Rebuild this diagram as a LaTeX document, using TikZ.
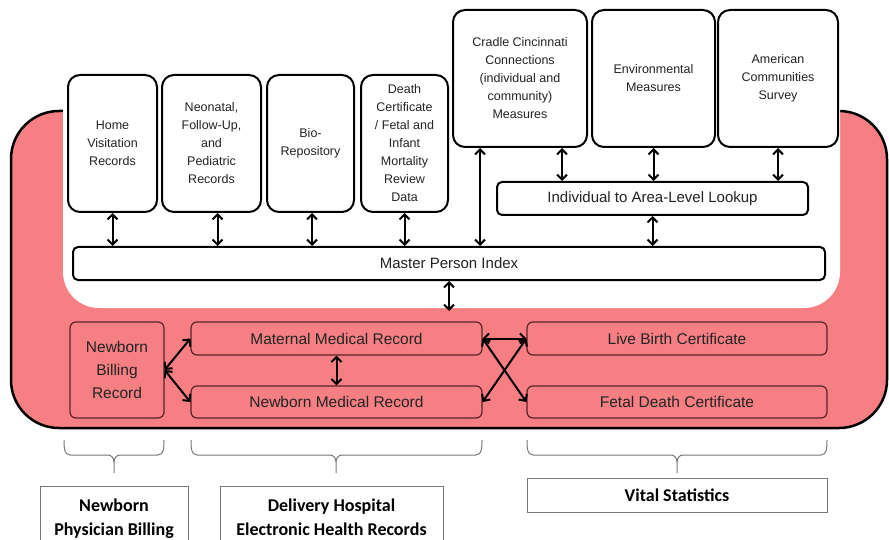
\documentclass[tikz,border=0pt]{standalone}
\usepackage{fontspec}
\setmainfont{Liberation Sans}
\newfontfamily\calib{Carlito}
\usetikzlibrary{arrows.meta}
\definecolor{pinkfill}{RGB}{245,127,131}
\definecolor{darkrim}{RGB}{90,35,38}
\definecolor{txt}{RGB}{35,35,35}
\definecolor{graybrace}{RGB}{120,120,120}
\newcommand\mybrace[3]{%
  \draw[brace] (#1,440) to[out=-90,in=180] (#1+6,455) -- (#3-6,455) to[out=0,in=90] (#3,462) -- (#3,473);
  \draw[brace] (#2,440) to[out=-90,in=0] (#2-6,455) -- (#3+6,455) to[out=180,in=90] (#3,462);}
\begin{document}
\begin{tikzpicture}[x=1pt,y=-1pt,
 topbox/.style={draw=black,line width=2,rounded corners=12,fill=white,align=center,font=\fontsize{12.5}{18}\selectfont,text=txt,inner sep=2},
 barbox/.style={draw=black,line width=2,rounded corners=5,fill=white,font=\fontsize{15}{18}\selectfont,text=txt,inner sep=0},
 pinkbox/.style={draw=darkrim,line width=1.2,rounded corners=6,fill=pinkfill,font=\fontsize{15.5}{23}\selectfont,text=txt,align=center,inner sep=0},
 labbox/.style={draw=graybrace,line width=1,fill=white,font=\calib\bfseries\fontsize{18}{24}\selectfont,text=black,align=center},
 dbl/.style={line width=2,{Straight Barb[length=5pt,width=10pt]}-{Straight Barb[length=5pt,width=10pt]}},
 brace/.style={draw=graybrace,line width=1}]
\useasboundingbox (0,0) rectangle (889,540);
% background shapes
\draw[fill=pinkfill, line width=2.5, rounded corners=48] (11,111) rectangle (887,428);
\fill[white, rounded corners=36] (63,50) rectangle (840,308);
% top boxes
\node[topbox, minimum width=89, minimum height=137] (home) at (112.5,143.5) {Home\\Visitation\\Records};
\node[topbox, minimum width=99, minimum height=137] (neo) at (211.5,143.5) {Neonatal,\\Follow-Up,\\and\\Pediatric\\Records};
\node[topbox, minimum width=87, minimum height=137] (bio) at (310.5,143.5) {Bio-\\Repository};
\node[topbox, minimum width=87, minimum height=137] (death) at (404.5,143.5) {Death\\Certificate\\/ Fetal and\\Infant\\Mortality\\Review\\Data};
\node[topbox, minimum width=134, minimum height=137] (cradle) at (520,78.5) {Cradle Cincinnati\\Connections\\(individual and\\community)\\Measures};
\node[topbox, minimum width=123, minimum height=137] (env) at (653.5,78.5) {Environmental\\Measures};
\node[topbox, minimum width=120, minimum height=137] (acs) at (778,78.5) {American\\Communities\\Survey};
\node[barbox, minimum width=311, minimum height=33] (lookup) at (652.5,198.5) {Individual to Area-Level Lookup};
\node[barbox, minimum width=752, minimum height=33] (mpi) at (449,263.5) {Master Person Index};
% bottom pink boxes
\node[pinkbox, minimum width=94, minimum height=96] (billing) at (117,370) {Newborn\\Billing\\Record};
\node[pinkbox, minimum width=291, minimum height=33] (maternal) at (336.5,338.5) {Maternal Medical Record};
\node[pinkbox, minimum width=291, minimum height=32] (newborn) at (336.5,402) {Newborn Medical Record};
\node[pinkbox, minimum width=300, minimum height=33] (live) at (677,338.5) {Live Birth Certificate};
\node[pinkbox, minimum width=300, minimum height=32] (fetal) at (677,402) {Fetal Death Certificate};
\coordinate (mpidown) at (449,311);
% arrows top
\draw[dbl] (home.south) -- (home.south |- mpi.north);
\draw[dbl] ([xshift=6]neo.south) -- ([xshift=6]neo.south |- mpi.north);
\draw[dbl] ([xshift=1.5]bio.south) -- ([xshift=1.5]bio.south |- mpi.north);
\draw[dbl] (death.south) -- (death.south |- mpi.north);
\draw[dbl] ([xshift=28]cradle.south west) -- ([xshift=28]cradle.south west |- mpi.north);
\draw[dbl] ([xshift=42]cradle.south) -- ([xshift=42]cradle.south |- lookup.north);
\draw[dbl] (env.south) -- (env.south |- lookup.north);
\draw[dbl] (acs.south) -- (acs.south |- lookup.north);
\draw[dbl] (lookup.south) -- (lookup.south |- mpi.north);
\draw[dbl] (mpi.south) -- (mpidown);
% arrows bottom
\draw[dbl] (billing.east) -- (maternal.west);
\draw[dbl] (billing.east) -- (newborn.west);
\draw[dbl] (maternal.south) -- (newborn.north);
\draw[dbl] (maternal.east) -- (live.west);
\draw[dbl] (maternal.east) -- (fetal.west);
\draw[dbl] (live.west) -- (newborn.east);
% braces
\mybrace{64}{164}{114}
\mybrace{191}{482}{336}
\mybrace{527}{827}{677}
% labels
\node[labbox, minimum width=148, anchor=north, inner xsep=0, inner ysep=12] (lab1) at (114,486) {Newborn\\Physician Billing\\[14pt]};
\node[labbox, minimum width=223, anchor=north, inner xsep=0, inner ysep=12] (lab2) at (331.5,486) {Delivery Hospital\\Electronic Health Records\\[14pt]};
\node[labbox, minimum width=300, minimum height=34, inner sep=0] (lab3) at (677,495) {Vital Statistics};
\end{tikzpicture}
\end{document}
